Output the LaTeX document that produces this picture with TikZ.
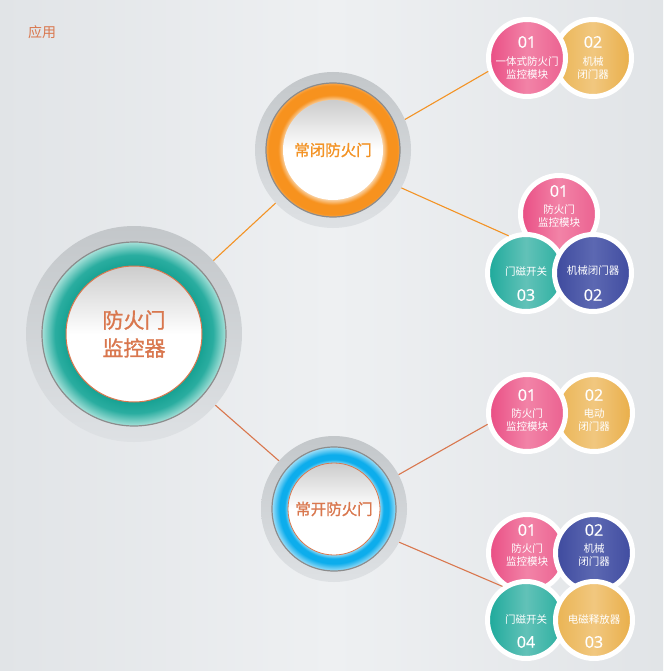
\documentclass[tikz,border=0pt]{standalone}
\usepackage{fontspec}
\setmainfont{Noto Sans CJK SC}
\newfontfamily\heavy[FakeBold=1.2]{Noto Sans CJK SC}
\newfontfamily\numfont[FakeBold=0.8]{Open Sans}
\usepackage{tikz}
\usetikzlibrary{positioning}
\usepackage{xcolor}

\definecolor{brn}{HTML}{D9774E}
\definecolor{org}{HTML}{F39325}
\definecolor{bgA}{HTML}{E1E4E7}
\definecolor{bgB}{HTML}{EEF0F2}
\definecolor{dkA}{HTML}{C3C7CA}
\definecolor{dkB}{HTML}{DEE1E4}
\definecolor{tlA}{HTML}{14A091}
\definecolor{tlB}{HTML}{2AADA0}
\definecolor{tlC}{HTML}{A6E1D9}
\definecolor{ogA}{HTML}{FAD3A6}
\definecolor{ogB}{HTML}{F7921E}
\definecolor{ogC}{HTML}{F9A649}
\definecolor{blA}{HTML}{8FD9F6}
\definecolor{blB}{HTML}{0DADEC}
\definecolor{blC}{HTML}{9EDEF8}
\definecolor{pkA}{HTML}{E94D84}
\definecolor{pkB}{HTML}{F283A7}
\definecolor{pkC}{HTML}{EB6190}
\definecolor{ylA}{HTML}{EAB453}
\definecolor{ylB}{HTML}{F1C77F}
\definecolor{ylC}{HTML}{E9AE48}
\definecolor{vbA}{HTML}{3E4A9E}
\definecolor{vbB}{HTML}{5C68B2}
\definecolor{vbC}{HTML}{404CA0}
\definecolor{ttA}{HTML}{1CA99B}
\definecolor{ttB}{HTML}{62C2B8}
\definecolor{ttC}{HTML}{28AE9F}
\pgfdeclareradialshading{ringteal}{\pgfpointorigin}{color(0bp)=(tlA); color(18bp)=(tlA); color(21.5bp)=(tlB); color(25bp)=(tlC); color(50bp)=(tlC)}
\pgfdeclareradialshading{ringorg}{\pgfpointorigin}{color(0bp)=(ogA); color(18.5bp)=(ogA); color(20.5bp)=(ogB); color(24bp)=(ogB); color(25bp)=(ogC); color(50bp)=(ogC)}
\pgfdeclareradialshading{ringblue}{\pgfpointorigin}{color(0bp)=(blA); color(18.5bp)=(blA); color(20bp)=(blB); color(22bp)=(blB); color(25bp)=(blC); color(50bp)=(blC)}

\begin{document}
\begin{tikzpicture}[x=1pt,y=-1pt,
  disk/.style={circle,inner sep=0pt,top color=dkA,bottom color=dkB},
  ring/.style={circle,inner sep=0pt,draw=black!45!white,line width=1.2pt},
  core/.style={circle,inner sep=0pt,top color=black!20!white,bottom color=white,middle color=white,align=center},
  ball/.style={circle,inner sep=0pt,minimum size=77pt,draw=white,line width=5pt},
  pk/.style={ball,left color=pkA,right color=pkC,middle color=pkB},
  yl/.style={ball,left color=ylA,right color=ylC,middle color=ylB},
  bl/.style={ball,left color=vbA,right color=vbC,middle color=vbB},
  tl/.style={ball,left color=ttA,right color=ttC,middle color=ttB},
  num/.style={text=white,font=\numfont\fontsize{16}{16}\selectfont},
  lab/.style={text=white,align=center,font=\fontsize{10.5}{13}\selectfont},
  link/.style={line width=1.1pt}]
\shade[left color=bgA,right color=bgA,middle color=bgB] (0,0) rectangle (663,671);
\node[text=brn,font=\fontsize{14}{14}\selectfont] (app) at (42,32) {应用};

\node[disk,minimum size=216pt] (m) at (134,334) {};
\node[ring,shading=ringteal,minimum size=184pt] (mr) at (m) {};
\node[core,draw=brn,line width=1pt,minimum size=136pt,text=brn,font=\heavy\fontsize{21}{28}\selectfont] (mc) at (m) {防火门\\监控器};

\node[disk,minimum size=156pt] (nc) at (333,150) {};
\node[ring,shading=ringorg,minimum size=134pt] (ncr) at (nc) {};
\node[core,minimum size=100pt,text=org,font=\heavy\fontsize{15.5}{15.5}\selectfont] (ncc) at (nc) {常闭防火门};

\node[disk,minimum size=146pt] (nk) at (334,509) {};
\node[ring,shading=ringblue,minimum size=124pt] (nkr) at (nk) {};
\node[core,draw=brn,line width=0.8pt,minimum size=92pt,text=brn,font=\heavy\fontsize{15.5}{15.5}\selectfont] (nkc) at (nk) {常开防火门};

\node[yl] (y1) at (593,58) {};
\node[pk] (p1) at (527,58) {};
\node[num] at ([yshift=16pt]p1.center) {01};
\node[lab] at ([yshift=-10pt]p1.center) {一体式防火门\\监控模块};
\node[num] at ([yshift=16pt]y1.center) {02};
\node[lab] at ([yshift=-10pt]y1.center) {机械\\闭门器};

\node[pk] (p2) at (559,214) {};
\node[tl] (t2) at (526,273) {};
\node[bl] (b2) at (593,273) {};
\node[num] at ([yshift=23pt]p2.center) {01};
\node[lab] at ([yshift=-2pt]p2.center) {防火门\\监控模块};
\node[lab] at ([yshift=1pt]t2.center) {门磁开关};
\node[num] at ([yshift=-22pt]t2.center) {03};
\node[lab] at ([yshift=2pt]b2.center) {机械闭门器};
\node[num] at ([yshift=-22pt]b2.center) {02};

\node[yl] (y3) at (594,413) {};
\node[pk] (p3) at (527,413) {};
\node[num] at ([yshift=18pt]p3.center) {01};
\node[lab] at ([yshift=-7pt]p3.center) {防火门\\监控模块};
\node[num] at ([yshift=18pt]y3.center) {02};
\node[lab] at ([yshift=-7pt]y3.center) {电动\\闭门器};

\node[pk] (p4) at (527,553) {};
\node[tl] (t4) at (526,620) {};
\node[bl] (b4) at (594,553) {};
\node[yl] (y4) at (594,620) {};
\node[num] at ([yshift=23pt]p4.center) {01};
\node[lab] at ([yshift=-2pt]p4.center) {防火门\\监控模块};
\node[num] at ([yshift=23pt]b4.center) {02};
\node[lab] at ([yshift=-2pt]b4.center) {机械\\闭门器};
\node[lab] at ([yshift=0pt]t4.center) {门磁开关};
\node[num] at ([yshift=-22pt]t4.center) {04};
\node[lab] at ([yshift=0pt]y4.center) {电磁释放器};
\node[num] at ([yshift=-22pt]y4.center) {03};

\draw[link,org] (m) -- (nc);
\draw[link,brn] (m) -- (nk);
\draw[link,org] (nc.23) -- (p1.199);
\draw[link,org] (nc.-29) -- (t2.115);
\draw[link,brn] (nk.28) -- (p3.196);
\draw[link,brn] (nk.-27) -- (t4.125);
\end{tikzpicture}
\end{document}
